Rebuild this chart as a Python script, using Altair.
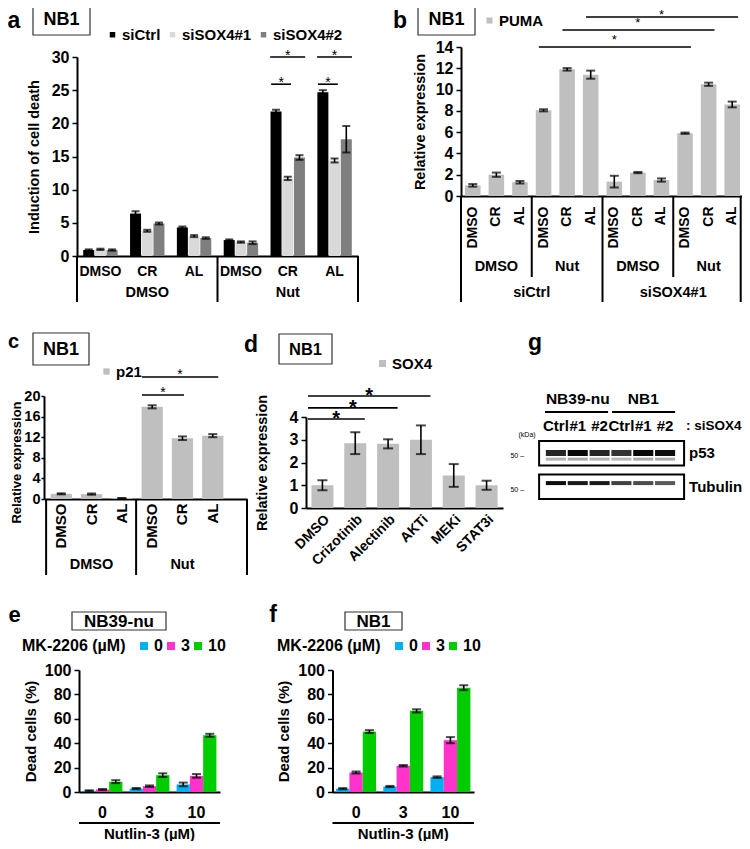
import altair as alt
import pandas as pd

W, H = 734, 833
FONT = "Liberation Sans"


def P(v):
    return v - 8

# ---------------- data ----------------
# panel a : induction of cell death (NB1)
a_treat = ["DMSO", "Nut"]
a_drug = ["DMSO", "CR", "AL"]
a_series = ["siCtrl", "siSOX4#1", "siSOX4#2"]
a_val_ctrl = [0.9, 6.4, 4.3, 2.4, 21.8, 24.7]
a_val_si1 = [1.0, 3.8, 3.0, 2.1, 11.7, 14.4]
a_val_si2 = [0.9, 4.9, 2.7, 2.0, 14.85, 17.6]
a_err_ctrl = [0.1, 0.35, 0.15, 0.1, 0.25, 0.3]
a_err_si1 = [0.1, 0.15, 0.15, 0.1, 0.25, 0.3]
a_err_si2 = [0.1, 0.15, 0.12, 0.2, 0.35, 2.0]

# panel b : PUMA relative expression
b_si = ["siCtrl", "siSOX4#1"]
b_treat = ["DMSO", "Nut"]
b_drug = ["DMSO", "CR", "AL"]
b_val = [1.0, 2.0, 1.3, 8.05, 11.9, 11.4, 1.35, 2.2, 1.5, 5.9, 10.5, 8.6]
b_err = [0.12, 0.2, 0.12, 0.1, 0.12, 0.38, 0.55, 0.06, 0.15, 0.06, 0.15, 0.27]

# panel c : p21 relative expression
c_treat = ["DMSO", "Nut"]
c_drug = ["DMSO", "CR", "AL"]
c_val = [1.0, 0.95, 0.15, 17.9, 11.8, 12.3]
c_err = [0.1, 0.12, 0.05, 0.3, 0.35, 0.3]

# panel d : SOX4 relative expression
d_cat = ["DMSO", "Crizotinib", "Alectinib", "AKTi", "MEKi", "STAT3i"]
d_val = [1.0, 2.85, 2.82, 3.0, 1.43, 1.0]
d_err = [0.22, 0.48, 0.2, 0.63, 0.5, 0.2]

# panels e / f : dead cells (%)
nutlin = ["0", "3", "10"]
mk = ["0", "3", "10"]
e_val = {"0": [1.0, 2.8, 6.2], "3": [2.0, 4.8, 13.2], "10": [8.5, 13.8, 46.5]}
e_err = {"0": [0.4, 0.5, 1.5], "3": [0.5, 0.6, 1.5], "10": [1.2, 1.5, 1.2]}
f_val = {"0": [2.7, 4.5, 12.2], "3": [16.0, 21.5, 42.5], "10": [49.5, 66.5, 85.5]}
f_err = {"0": [0.5, 0.5, 0.6], "3": [0.8, 0.6, 2.5], "10": [1.2, 1.3, 2.0]}
mk_colors = ["#00B0F0", "#FF33CC", "#00CC00"]

# panel g : western blot (band intensities, 0-1)
g_cells = ["NB39-nu", "NB1"]
g_lane_labels = ["Ctrl", "#1", "#2", "Ctrl", "#1", "#2"]
g_p53 = [0.85, 0.97, 0.85, 0.8, 0.97, 0.95]
g_tub = [0.95, 0.9, 0.9, 0.75, 0.7, 0.65]

# ---------------- helpers ----------------

def y_axis(x_px, values, title, label_size=16, title_size=14.5, title_pad=8, **kw):
    d = dict(orient="left", offset=-P(x_px), values=values, title=title, grid=False, format="d",
             domainColor="black", domainWidth=2, ticks=True, tickColor="black",
             tickWidth=1.5, tickSize=5, labelFontSize=label_size, labelFontWeight="bold",
             labelColor="black", labelPadding=3, titleFontSize=title_size,
             titleFontWeight="bold", titleColor="black", titlePadding=title_pad)
    d.update(kw)
    return alt.Axis(**d)


def x_axis(y_px, **kw):
    d = dict(orient="bottom", offset=P(y_px) - H, title=None, grid=False, ticks=False,
             tickSize=0, domainColor="black", domainWidth=2, labelFontWeight="bold",
             labelColor="black", labelOverlap=False, labelAngle=0)
    d.update(kw)
    return alt.Axis(**d)


def leg(x_px, y_px, size=30, label_size=15, col_pad=4, **kw):
    d = dict(orient="none", legendX=P(x_px), legendY=P(y_px), direction="horizontal",
             symbolType="square", symbolSize=size, symbolStrokeWidth=0,
             labelFontSize=label_size, labelFontWeight="bold", labelColor="black",
             padding=0, columnPadding=col_pad, labelOffset=2, labelLimit=300, title=None)
    d.update(kw)
    return alt.Legend(**d)


def errbars(df, xenc, yscale, xoff=None, cap=8, width=1.6):
    enc = dict(x=xenc)
    if xoff is not None:
        enc["xOffset"] = xoff
    r = alt.Chart(df).mark_rule(color="black", strokeWidth=width).encode(
        y=alt.Y("lo:Q", scale=yscale), y2="hi:Q", **enc)
    t1 = alt.Chart(df).mark_tick(color="black", thickness=2, size=cap).encode(
        y=alt.Y("lo:Q", scale=yscale), **enc)
    t2 = alt.Chart(df).mark_tick(color="black", thickness=2, size=cap).encode(
        y=alt.Y("hi:Q", scale=yscale), **enc)
    return [r, t1, t2]


def text_at(df, xscale, field, bp, y_px, size=15, weight="bold", **kw):
    return alt.Chart(df).mark_text(fontSize=size, fontWeight=weight, color="black",
                                   baseline="middle", **kw).encode(
        x=alt.X(f"{field}:N", scale=xscale, bandPosition=bp),
        y=alt.value(P(y_px)), text="label:N")


def vlines(cats, xscale, bp, y0_px, y1_px, width=2):
    df = pd.DataFrame({"cat": cats})
    return alt.Chart(df).mark_rule(color="black", strokeWidth=width).encode(
        x=alt.X("cat:N", scale=xscale, bandPosition=bp),
        y=alt.value(P(y0_px)), y2=alt.value(P(y1_px)))


def sig_lines(df, xscale, yscale, bp0, bp1):
    return alt.Chart(df).mark_rule(color="black", strokeWidth=1.6).encode(
        x=alt.X("start:N", scale=xscale, bandPosition=bp0),
        x2=alt.X2("end", bandPosition=bp1),
        y=alt.Y("y:Q", scale=yscale))


def stars(df, xscale, yscale, bp, dy, size=14, weight="normal"):
    return alt.Chart(df).mark_text(text="*", fontSize=size, fontWeight=weight, color="black",
                                   baseline="alphabetic", dy=dy).encode(
        x=alt.X("cat:N", scale=xscale, bandPosition=bp),
        y=alt.Y("y:Q", scale=yscale))

# ---------------- panel a ----------------
a_cats = [f"{t}|{d}" for t in a_treat for d in a_drug]
rows = []
for s, vals, errs in zip(a_series, [a_val_ctrl, a_val_si1, a_val_si2],
                         [a_err_ctrl, a_err_si1, a_err_si2]):
    for c, v, e in zip(a_cats, vals, errs):
        rows.append(dict(cat=c, series=s, value=v, lo=v - e, hi=v + e))
a_df = pd.DataFrame(rows)
xa = alt.Scale(domain=a_cats, range=[P(77), P(358)], paddingInner=0, paddingOuter=0)
ya = alt.Scale(domain=[0, 30], range=[P(256), P(57)], nice=False, zero=False)
xoa = alt.Scale(domain=a_series, paddingInner=0.06, paddingOuter=0.53)
ca = alt.Scale(domain=a_series, range=["#000000", "#d9d9d9", "#7f7f7f"])

a_bars = alt.Chart(a_df).mark_bar().encode(
    x=alt.X("cat:N", scale=xa, axis=x_axis(256, labelExpr="split(datum.label,'|')[1]",
                                           labelFontSize=14, labelPadding=8)),
    xOffset=alt.XOffset("series:N", scale=xoa),
    y=alt.Y("value:Q", scale=ya, axis=y_axis(77, list(range(0, 31, 5)), "Induction of cell death",
                                             title_pad=10)),
    color=alt.Color("series:N", scale=ca, legend=leg(105, 27, size=30, label_size=15, col_pad=4)),
)
a_err = errbars(a_df, alt.X("cat:N", scale=xa), ya,
                xoff=alt.XOffset("series:N", scale=xoa), cap=8)
a_grp = pd.DataFrame({"cat": ["DMSO|CR", "Nut|CR"], "label": a_treat})
a_sig_hi = pd.DataFrame({"start": ["Nut|CR", "Nut|AL"], "end": ["Nut|CR", "Nut|AL"], "y": [30.0, 30.0]})
a_sig_lo = pd.DataFrame({"start": ["Nut|CR", "Nut|AL"], "end": ["Nut|CR", "Nut|AL"], "y": [25.9, 25.9]})
panel_a = alt.layer(
    a_bars, *a_err,
    text_at(a_grp, xa, "cat", 0.5, 293, size=14.5),
    vlines(["DMSO|DMSO"], xa, 0.0, 256, 302),
    vlines(["DMSO|AL", "Nut|AL"], xa, 1.0, 256, 302),
    sig_lines(a_sig_hi, xa, ya, 0.124, 0.872),
    sig_lines(a_sig_lo, xa, ya, 0.145, 0.57),
    stars(a_sig_hi.rename(columns={"start": "cat"}), xa, ya, 0.5, 3),
    stars(a_sig_lo.rename(columns={"start": "cat"}), xa, ya, 0.36, 3),
)

# ---------------- panel b ----------------
b_cats = [f"{s}|{t}|{d}" for s in b_si for t in b_treat for d in b_drug]
b_df = pd.DataFrame({"cat": b_cats, "value": b_val,
                     "lo": [v - e for v, e in zip(b_val, b_err)],
                     "hi": [v + e for v, e in zip(b_val, b_err)],
                     "gene": ["PUMA"] * len(b_cats)})
xb = alt.Scale(domain=b_cats, range=[P(461), P(744)], paddingInner=0, paddingOuter=0)
yb = alt.Scale(domain=[0, 14], range=[P(196), P(47)], nice=False, zero=False)
b_bars = alt.Chart(b_df).mark_bar(width=alt.RelativeBandSize(0.66)).encode(
    x=alt.X("cat:N", scale=xb, axis=x_axis(196, labelExpr="split(datum.label,'|')[2]",
                                           labelFontSize=14, labelAngle=-90, labelAlign="right",
                                           labelBaseline="middle", labelPadding=10)),
    y=alt.Y("value:Q", scale=yb, axis=y_axis(461, list(range(0, 15, 2)), "Relative expression")),
    color=alt.Color("gene:N", scale=alt.Scale(domain=["PUMA"], range=["#bfbfbf"]),
                    legend=leg(482, 13, size=36)),
)
b_err_l = errbars(b_df, alt.X("cat:N", scale=xb), yb, cap=9)
b_lvl2 = pd.DataFrame({"cat": [f"{s}|{t}|CR" for s in b_si for t in b_treat],
                       "label": [t for s in b_si for t in b_treat]})
b_lvl3 = pd.DataFrame({"cat": [f"{s}|Nut|DMSO" for s in b_si], "label": b_si})
b_sig_y = [14.0, 15.6, 16.82]
b_sig = pd.DataFrame({"start": ["siCtrl|Nut|DMSO", "siCtrl|Nut|CR", "siCtrl|Nut|AL"],
                      "end": ["siSOX4#1|Nut|DMSO", "siSOX4#1|Nut|CR", "siSOX4#1|Nut|AL"],
                      "y": b_sig_y})
b_star_low = pd.DataFrame({"cat": ["siSOX4#1|DMSO|DMSO", "siSOX4#1|DMSO|CR"], "y": b_sig_y[:2]})
b_star_top = pd.DataFrame({"cat": ["siSOX4#1|DMSO|AL"], "y": b_sig_y[2:]})
panel_b = alt.layer(
    b_bars, *b_err_l,
    text_at(b_lvl2, xb, "cat", 0.5, 267, size=14.5),
    text_at(b_lvl3, xb, "cat", 0.0, 293, size=14.5),
    vlines(["siCtrl|DMSO|DMSO", "siSOX4#1|DMSO|DMSO"], xb, 0.0, 196, 302),
    vlines(["siSOX4#1|Nut|AL"], xb, 0.86, 196, 302),
    vlines(["siCtrl|Nut|DMSO", "siSOX4#1|Nut|DMSO"], xb, 0.0, 196, 277),
    sig_lines(b_sig, xb, yb, 0.3, 0.75),
    stars(b_star_low, xb, yb, 0.5, -3, size=13),
    stars(b_star_top, xb, yb, 0.5, 2, size=13),
)

# ---------------- panel c ----------------
c_cats = [f"{t}|{d}" for t in c_treat for d in c_drug]
c_df = pd.DataFrame({"cat": c_cats, "value": c_val,
                     "lo": [v - e for v, e in zip(c_val, c_err)],
                     "hi": [v + e for v, e in zip(c_val, c_err)],
                     "gene": ["p21"] * len(c_cats)})
xc = alt.Scale(domain=c_cats, range=[P(44), P(247)], paddingInner=0, paddingOuter=0.35, align=0.1)
yc = alt.Scale(domain=[0, 20], range=[P(499), P(396)], nice=False, zero=False)
c_bars = alt.Chart(c_df).mark_bar(width=alt.RelativeBandSize(0.7)).encode(
    x=alt.X("cat:N", scale=xc, axis=x_axis(499, labelExpr="split(datum.label,'|')[1]",
                                           labelFontSize=15, labelAngle=-90, labelAlign="right",
                                           labelBaseline="middle", labelPadding=4)),
    y=alt.Y("value:Q", scale=yc, axis=y_axis(44, list(range(0, 21, 4)), "Relative expression",
                                             title_size=13, label_size=14.5, title_pad=0,
                                             labelPadding=1, tickSize=3, titleY=P(462))),
    color=alt.Color("gene:N", scale=alt.Scale(domain=["p21"], range=["#bfbfbf"]),
                    legend=leg(99, 364, size=40)),
)
c_err_l = errbars(c_df, alt.X("cat:N", scale=xc), yc, cap=9)
c_grp = pd.DataFrame({"cat": ["DMSO|CR", "Nut|CR"], "label": c_treat})
c_sig1 = pd.DataFrame({"start": ["Nut|DMSO"], "end": ["Nut|CR"], "y": [20.2]})
c_sig2 = pd.DataFrame({"start": ["Nut|DMSO"], "end": ["Nut|AL"], "y": [23.7]})
c_right_edge = alt.Chart(pd.DataFrame({"k": [0]})).mark_rule(color="black", strokeWidth=2).encode(
    x=alt.value(P(247)), y=alt.value(P(499)), y2=alt.value(P(575)))
panel_c = alt.layer(
    c_bars, *c_err_l,
    text_at(c_grp, xc, "cat", 0.5, 565, size=14.5),
    vlines(["DMSO|DMSO"], xc, 0.0, 499, 575),
    vlines(["DMSO|AL"], xc, 0.97, 499, 575),
    c_right_edge,
    sig_lines(c_sig1, xc, yc, 0.165, 0.55),
    sig_lines(c_sig2, xc, yc, 0.165, 0.68),
    stars(pd.DataFrame({"cat": ["Nut|DMSO"], "y": [20.2]}), xc, yc, 0.86, 2),
    stars(pd.DataFrame({"cat": ["Nut|CR"], "y": [23.7]}), xc, yc, 0.42, 2),
)

# ---------------- panel d ----------------
d_df = pd.DataFrame({"cat": d_cat, "value": d_val,
                     "lo": [v - e for v, e in zip(d_val, d_err)],
                     "hi": [v + e for v, e in zip(d_val, d_err)],
                     "gene": ["SOX4"] * len(d_cat)})
xd = alt.Scale(domain=d_cat, range=[P(306), P(503)], paddingInner=0, paddingOuter=0)
yd = alt.Scale(domain=[0, 4], range=[P(508), P(417)], nice=False, zero=False)
d_bars = alt.Chart(d_df).mark_bar(width=alt.RelativeBandSize(0.67)).encode(
    x=alt.X("cat:N", scale=xd, axis=x_axis(508, labelFontSize=14, labelAngle=-45,
                                           labelAlign="right", labelBaseline="top",
                                           labelPadding=4)),
    y=alt.Y("value:Q", scale=yd, axis=y_axis(306, [0, 1, 2, 3, 4], "Relative expression",
                                             title_size=14.5, title_pad=20)),
    color=alt.Color("gene:N", scale=alt.Scale(domain=["SOX4"], range=["#bfbfbf"]),
                    legend=leg(375, 356, size=50)),
)
d_err_l = errbars(d_df, alt.X("cat:N", scale=xd), yd, cap=10)
d_sig = pd.DataFrame({"start": ["DMSO", "DMSO", "DMSO"],
                      "end": ["Crizotinib", "Alectinib", "AKTi"], "y": [3.91, 4.40, 4.92]})
panel_d = alt.layer(
    d_bars, *d_err_l,
    sig_lines(d_sig, xd, yd, 0.06, 0.79),
    stars(pd.DataFrame({"cat": ["DMSO", "Crizotinib"], "y": [3.91, 4.92]}), xd, yd, 0.92, 6,
          size=20, weight="bold"),
    stars(pd.DataFrame({"cat": ["Crizotinib"], "y": [4.40]}), xd, yd, 0.43, 6,
          size=20, weight="bold"),
)

# ---------------- panels e / f ----------------

def dead_panel(vals, errs, x0_px, x1_px, legend_x):
    rows = []
    for m in mk:
        for n, v, e in zip(nutlin, vals[m], errs[m]):
            rows.append(dict(nut=n, mk=m, value=v, lo=v - e, hi=v + e))
    df = pd.DataFrame(rows)
    xs = alt.Scale(domain=nutlin, range=[P(x0_px), P(x1_px)], paddingInner=0, paddingOuter=0)
    ys = alt.Scale(domain=[0, 100], range=[P(792), P(670)], nice=False, zero=False)
    xo = alt.Scale(domain=mk, paddingInner=0, paddingOuter=0.27)
    bars = alt.Chart(df).mark_bar().encode(
        x=alt.X("nut:N", scale=xs, axis=x_axis(792, labelFontSize=16, labelPadding=12)),
        xOffset=alt.XOffset("mk:N", scale=xo),
        y=alt.Y("value:Q", scale=ys, axis=y_axis(x0_px, list(range(0, 101, 20)), "Dead cells (%)",
                                                 title_size=15, label_size=16, title_pad=6)),
        color=alt.Color("mk:N", scale=alt.Scale(domain=mk, range=mk_colors),
                        legend=leg(legend_x, 638, size=64, label_size=16, col_pad=0,
                                   title="MK-2206 (µM)", titleOrient="left", titleFontSize=16,
                                   titleFontWeight="bold", titleColor="black", titlePadding=10,
                                   titleBaseline="middle", titleAnchor="middle", labelOffset=2)),
    )
    err = errbars(df, alt.X("nut:N", scale=xs), ys,
                  xoff=alt.XOffset("mk:N", scale=xo), cap=9)
    line_df = pd.DataFrame({"start": ["0"], "end": ["10"]})
    base_line = alt.Chart(line_df).mark_rule(color="black", strokeWidth=2).encode(
        x=alt.X("start:N", scale=xs, bandPosition=0.0),
        x2=alt.X2("end", bandPosition=1.0), y=alt.value(P(823)))
    title = text_at(pd.DataFrame({"cat": ["3"], "label": ["Nutlin-3 (µM)"]}), xs, "cat", 0.5, 834,
                    size=15)
    return alt.layer(bars, *err, base_line, title)

panel_e = dead_panel(e_val, e_err, 79, 220, 22)
panel_f = dead_panel(f_val, f_err, 332.5, 474, 277)

# ---------------- panel g (blot) ----------------
# lanes on a lane-index axis: lane i spans [i, i+1)
xg = alt.Scale(domain=[0, 6], range=[P(545), P(676)], nice=False, zero=False)
yg = alt.Scale(domain=["p53", "Tubulin"], range=[P(441), P(499)], paddingInner=0.27, paddingOuter=0)
idx = list(range(6))
g_df = pd.DataFrame({"lane0": [i + 0.04 for i in idx], "lane1": [i + 0.96 for i in idx],
                     "mid": [i + 0.5 for i in idx], "label": g_lane_labels,
                     "p53": g_p53, "tub": g_tub,
                     "row_p": ["p53"] * 6, "row_t": ["Tubulin"] * 6})
frames = alt.Chart(pd.DataFrame({"row": ["p53", "Tubulin"], "x0": [-0.27, -0.27],
                                 "x1": [6.37, 6.37]})).mark_rect(
    fillOpacity=0, stroke="black", strokeWidth=2).encode(
    x=alt.X("x0:Q", scale=xg, axis=None), x2="x1:Q",
    y=alt.Y("row:N", scale=yg, axis=None))


def band(row_field, bp, width, op_field, factor=1.0):
    return alt.Chart(g_df).transform_calculate(op=f"datum.{op_field} * {factor}").mark_rule(
        color="black", strokeWidth=width, strokeCap="butt").encode(
        x=alt.X("lane0:Q", scale=xg, axis=None), x2="lane1:Q",
        y=alt.Y(f"{row_field}:N", scale=yg, bandPosition=bp, axis=None),
        opacity=alt.Opacity("op:Q", scale=None))

g_lab = alt.Chart(g_df).mark_text(fontSize=15, fontWeight="bold", color="black",
                                  baseline="middle").encode(
    x=alt.X("mid:Q", scale=xg, axis=None), y=alt.value(P(426)), text="label:N")
g_cell = alt.Chart(pd.DataFrame({"x": [1.5, 4.5], "label": g_cells})).mark_text(
    fontSize=15.5, fontWeight="bold", color="black", baseline="middle").encode(
    x=alt.X("x:Q", scale=xg, axis=None), y=alt.value(P(399)), text="label:N")
g_cell_lines = alt.Chart(pd.DataFrame({"x0": [0.0, 3.07], "x1": [2.89, 5.96]})).mark_rule(
    color="black", strokeWidth=2).encode(
    x=alt.X("x0:Q", scale=xg, axis=None), x2="x1:Q", y=alt.value(P(412)))
g_side = alt.Chart(pd.DataFrame({"row": ["p53", "Tubulin"], "x": [6.6, 6.6],
                                 "label": ["p53", "Tubulin"]})).mark_text(
    fontSize=15, fontWeight="bold", color="black", align="left", baseline="middle").encode(
    x=alt.X("x:Q", scale=xg, axis=None),
    y=alt.Y("row:N", scale=yg, bandPosition=0.5, axis=None), text="label:N")
g_mw = alt.Chart(pd.DataFrame({"row": ["p53", "Tubulin"], "x": [-0.96, -0.96],
                               "label": ["50 –", "50 –"]})).mark_text(
    fontSize=7, color="black", align="right", baseline="middle").encode(
    x=alt.X("x:Q", scale=xg, axis=None),
    y=alt.Y("row:N", scale=yg, bandPosition=0.62, axis=None), text="label:N")
g_kda = alt.Chart(pd.DataFrame({"x": [-0.82], "label": ["(kDa)"]})).mark_text(
    fontSize=7, color="black", baseline="middle").encode(
    x=alt.X("x:Q", scale=xg, axis=None), y=alt.value(P(435)), text="label:N")
g_si = alt.Chart(pd.DataFrame({"x": [6.46], "label": [": siSOX4"]})).mark_text(
    fontSize=13.5, fontWeight="bold", color="black", align="left", baseline="middle").encode(
    x=alt.X("x:Q", scale=xg, axis=None), y=alt.value(P(426)), text="label:N")

panel_g = alt.layer(
    band("row_p", 0.49, 6, "p53"),
    band("row_p", 0.74, 3, "p53", 0.35),
    band("row_t", 0.35, 4, "tub"),
    frames, g_lab, g_cell, g_cell_lines, g_side, g_mw, g_kda, g_si,
)

# ---------------- annotations: panel letters and cell-line boxes ----------------
one = pd.DataFrame({"k": [0]})
ann = []
for letter, x, y, fs in [("a", 14, 28, 23), ("b", 400, 28, 23), ("c", 13.5, 348, 20),
                         ("d", 251, 352, 23), ("e", 14.5, 622, 22), ("f", 273, 622, 23),
                         ("g", 535, 350, 23)]:
    ann.append(alt.Chart(one).mark_text(text=letter, fontSize=fs, fontWeight="bold",
                                        color="black", baseline="alphabetic").encode(
        x=alt.value(P(x)), y=alt.value(P(y))))
for label, x0, y0, x1, y1, fs in [("NB1", 33, 3, 90, 35, 18), ("NB1", 418, 3, 475, 35, 18),
                                  ("NB1", 33, 333, 89, 365, 18), ("NB1", 279, 334, 332, 364, 16.5),
                                  ("NB39-nu", 72, 612, 166, 630, 17), ("NB1", 345, 612, 402, 630, 17)]:
    ann.append(alt.Chart(one).mark_rect(fillOpacity=0, stroke="#333333", strokeWidth=1.2).encode(
        x=alt.value(P(x0)), x2=alt.value(P(x1)), y=alt.value(P(y0)), y2=alt.value(P(y1))))
    ann.append(alt.Chart(one).mark_text(text=label, fontSize=fs, fontWeight="bold", color="black",
                                        baseline="middle").encode(
        x=alt.value(P((x0 + x1) / 2)), y=alt.value(P((y0 + y1) / 2 + 1))))

chart = alt.layer(panel_a, panel_b, panel_c, panel_d, panel_e, panel_f, panel_g, *ann).resolve_scale(
    x="independent", y="independent", xOffset="independent", color="independent",
    opacity="independent").resolve_axis(x="independent", y="independent").resolve_legend(
    color="independent").properties(width=W, height=H, autosize="none", padding=0).configure(
    font=FONT).configure_view(stroke=None).configure_axis(labelFont=FONT, titleFont=FONT).configure_legend(
    labelFont=FONT, titleFont=FONT).configure_text(font=FONT)

chart.save("out.html", embed_options={"renderer": "svg", "actions": False})
